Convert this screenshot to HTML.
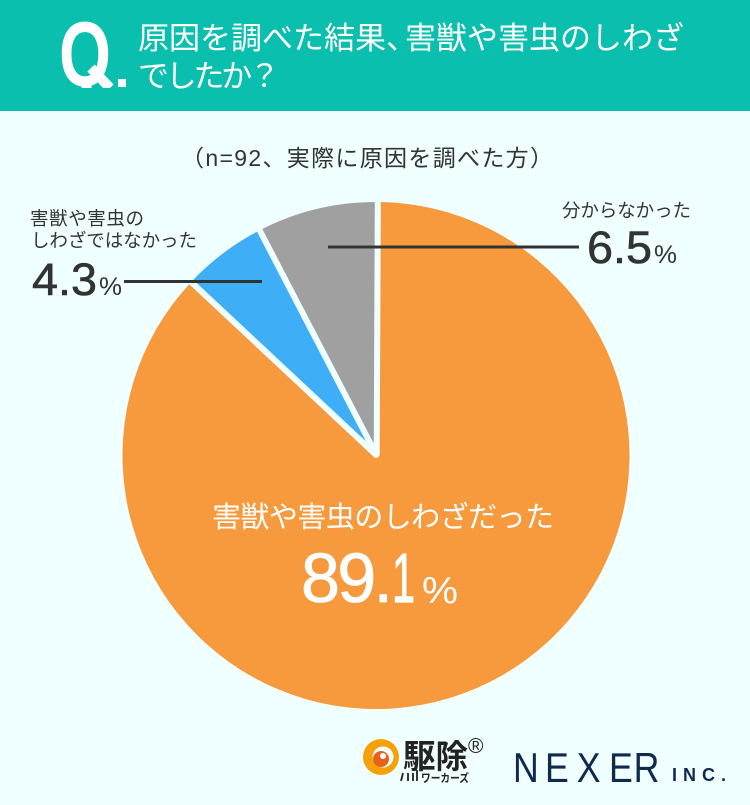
<!DOCTYPE html>
<html lang="ja">
<head>
<meta charset="utf-8">
<title>害獣や害虫のしわざでしたか？</title>
<style>
html,body{margin:0;padding:0;background:#f0ffff;}
svg{display:block;width:750px;height:805px;}
text{font-family:"Liberation Sans","Noto Sans CJK JP",sans-serif;}
</style>
</head>
<body>
<svg id="chart" xmlns="http://www.w3.org/2000/svg" width="750" height="805" viewBox="0 0 750 805">
  <defs>
    <clipPath id="q-clip"><rect x="50" y="10" width="68" height="78"/></clipPath>
  </defs>
  <rect x="0" y="0" width="750" height="805" fill="#f0ffff"/>
  <rect x="0" y="0" width="750" height="111" fill="#0abfae"/>
  <g clip-path="url(#q-clip)">
    <text x="59" y="86" font-size="92" font-weight="700" fill="#fff" textLength="52" lengthAdjust="spacingAndGlyphs">Q</text>
    <path d="M91 68L110 88" stroke="#fff" stroke-width="10" fill="none"/>
  </g>
  <rect x="118" y="79" width="8" height="8" fill="#fff"/>
  <text x="138" y="49" font-size="31" fill="#fff">原因を調べた結果、<tspan dx="-12">害獣や害虫のしわざ</tspan></text>
  <text x="138" y="87" font-size="31" fill="#fff" textLength="142" lengthAdjust="spacing">でしたか？</text>
  <text x="367" y="166" font-size="23" fill="#333" text-anchor="middle" textLength="372" lengthAdjust="spacing">（n=92、実際に原因を調べた方）</text>

  <g id="slices"></g>
  <g id="separators"></g>

  <line x1="328" y1="247" x2="579" y2="247" stroke="#333" stroke-width="3"/>
  <line x1="124" y1="281.500" x2="262" y2="281.500" stroke="#333" stroke-width="3"/>

  <text x="30" y="225" font-size="18.500" fill="#333" textLength="114" lengthAdjust="spacing">害獣や害虫の</text>
  <text x="31" y="247" font-size="18.500" fill="#333" textLength="166" lengthAdjust="spacing">しわざではなかった</text>
  <text x="32" y="295" font-size="45" fill="#333" stroke="#333" stroke-width="0.6" textLength="65" lengthAdjust="spacingAndGlyphs">4.3</text>
  <text x="99" y="295" font-size="25" fill="#333" textLength="23" lengthAdjust="spacingAndGlyphs">%</text>

  <text x="562" y="217" font-size="18.500" fill="#333" textLength="129" lengthAdjust="spacing">分からなかった</text>
  <text x="587" y="263" font-size="45" fill="#333" stroke="#333" stroke-width="0.6" textLength="65" lengthAdjust="spacingAndGlyphs">6.5</text>
  <text x="654" y="263" font-size="25" fill="#333" textLength="23" lengthAdjust="spacingAndGlyphs">%</text>

  <text x="212" y="527" font-size="29" fill="#fff" textLength="342" lengthAdjust="spacing">害獣や害虫のしわざだった</text>
  <text x="301" y="602" font-size="70" fill="#fff" stroke="#fff" stroke-width="0.8" textLength="92" lengthAdjust="spacing">89.</text>
  <text x="392" y="602" font-size="70" fill="#fff" stroke="#fff" stroke-width="1.2" textLength="23" lengthAdjust="spacingAndGlyphs">1</text>
  <text x="422" y="603" font-size="38" fill="#fff" textLength="36" lengthAdjust="spacingAndGlyphs">%</text>

  <g>
    <circle cx="381" cy="757" r="18" fill="#f5a20a"/>
    <circle cx="383" cy="757" r="10.500" fill="#f0ffff"/>
    <circle cx="381" cy="759" r="8" fill="#e8601c"/>
    <circle cx="383" cy="756" r="3" fill="#f0ffff"/>
    <text x="403" y="768" font-size="33" font-weight="700" fill="#222" textLength="65" lengthAdjust="spacingAndGlyphs">駆除</text>
    <path d="M403 773l-2 8M408 773v8M413 773v8M417 770v11" stroke="#222" stroke-width="1.800" fill="none"/>
    <text x="468" y="753" font-size="21" fill="#222">®</text>
    <text x="421" y="782" font-size="11.500" font-weight="700" fill="#222" textLength="48" lengthAdjust="spacingAndGlyphs">ワーカーズ</text>
  </g>
  <g transform="translate(513 782) scale(0.85 1)">
    <text x="0 37.600 75 113 142" y="0" font-size="42" fill="#0f2a4d">NEXER</text>
  </g>
  <text x="672" y="781" font-size="18" font-weight="700" fill="#0f2a4d" textLength="54" lengthAdjust="spacing">INC.</text>
</svg>
<script>
// Slice shares are read from the drawn pie geometry; in the source image the
// drawn wedges differ from the printed percentages (89.1 / 4.3 / 6.5).
const categories = ['pest', 'not-pest', 'unknown'];
const sliceShares = [86.9, 5.4, 7.7];
const sliceColors = ['#f79a3e', '#3eaef7', '#a0a0a0'];

const svgNS = 'http://www.w3.org/2000/svg';
const pieCx = 376, pieCy = 455.5, pieR = 253.5, startDeg = 0.25;
const shareTotal = sliceShares.reduce(function (a, b) { return a + b; }, 0);

function shareToAngle(cum) {
  return (startDeg + cum / shareTotal * 360) * Math.PI / 180;
}
function polar(angle, r) {
  return [pieCx + r * Math.sin(angle), pieCy - r * Math.cos(angle)];
}

const sliceLayer = document.getElementById('slices');
const sepLayer = document.getElementById('separators');
let cumulative = 0;
sliceShares.forEach(function (share, i) {
  const a0 = shareToAngle(cumulative);
  const a1 = shareToAngle(cumulative + share);
  const p0 = polar(a0, pieR);
  const p1 = polar(a1, pieR);
  const large = (a1 - a0) > Math.PI ? 1 : 0;
  const path = document.createElementNS(svgNS, 'path');
  path.setAttribute('d', 'M' + pieCx + ' ' + pieCy + 'L' + p0[0] + ' ' + p0[1] +
    'A' + pieR + ' ' + pieR + ' 0 ' + large + ' 1 ' + p1[0] + ' ' + p1[1] + 'Z');
  path.setAttribute('fill', sliceColors[i]);
  
  
  sliceLayer.appendChild(path);

  const inner = polar(a0, 1);
  const outer = polar(a0, pieR + 3);
  const sep = document.createElementNS(svgNS, 'line');
  sep.setAttribute('x1', inner[0] + 0.7);
  sep.setAttribute('y1', inner[1]);
  sep.setAttribute('x2', outer[0] + 0.7);
  sep.setAttribute('y2', outer[1]);
  sep.setAttribute('stroke', '#f0ffff');
  sep.setAttribute('stroke-width', '6');
  sep.setAttribute('stroke-linecap', 'round');
  
  
  sepLayer.appendChild(sep);

  cumulative += share;
});
</script>
</body>
</html>
